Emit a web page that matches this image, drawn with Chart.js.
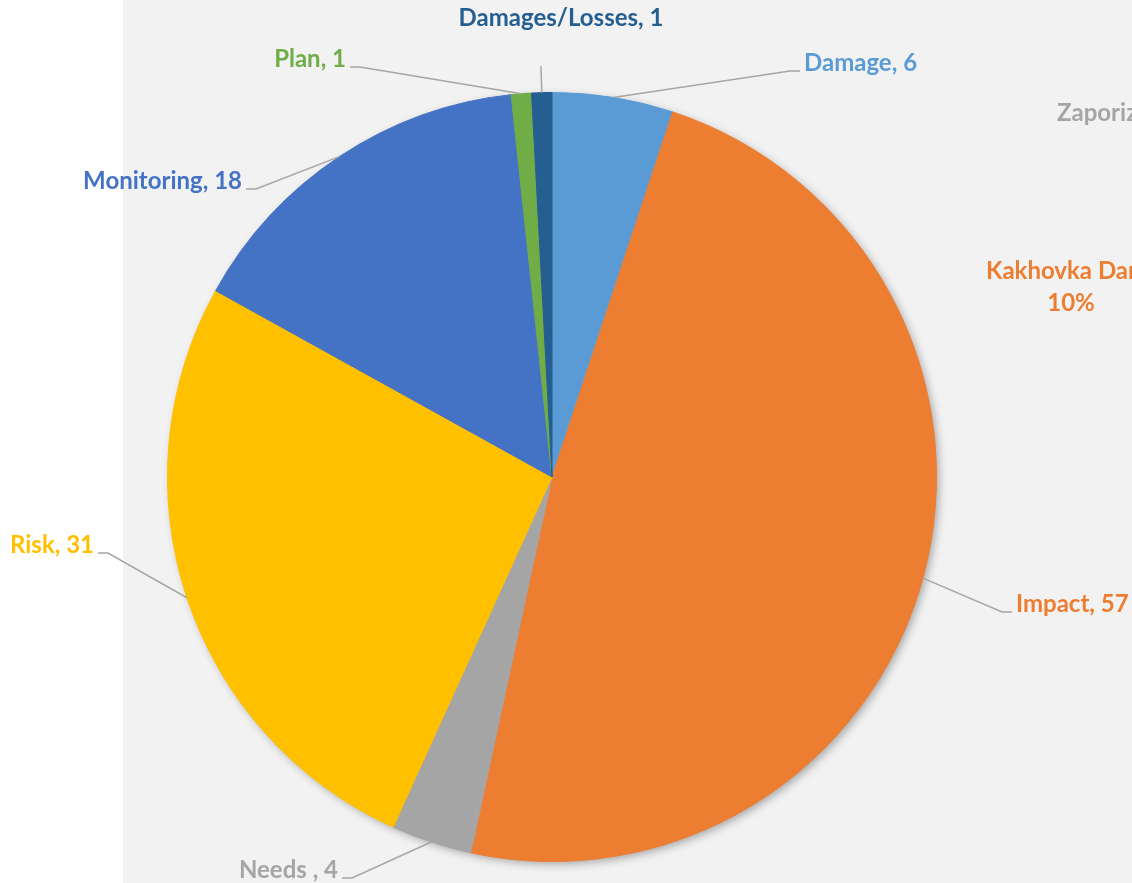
<!DOCTYPE html>
<html>
<head>
<meta charset="utf-8">
<script src="https://cdn.jsdelivr.net/npm/chart.js@4"></script>
<style>
  html, body { margin: 0; padding: 0; background: #ffffff; }
  #wrap { width: 1132px; height: 883px; }
</style>
</head>
<body>
<div id="wrap"><canvas id="topicsChart" width="1132" height="883"></canvas></div>
<script>
const categories = ['Damage', 'Impact', 'Needs ', 'Risk', 'Monitoring', 'Plan', 'Damages/Losses'];
const counts = [6, 57, 4, 31, 18, 1, 1];
const sliceColors = ['#5B9BD5', '#ED7D31', '#A5A5A5', '#FFC000', '#4472C4', '#70AD47', '#255E91'];

// where each data label sits, relative to the leader line elbow
const labelSpots = [
    { elbow: [790, 71], side: 'left' },
    { elbow: [1002, 612], side: 'left' },
    { elbow: [352, 878], side: 'right' },
    { elbow: [108, 553], side: 'right' },
    { elbow: [256, 189], side: 'right' },
    { elbow: [360, 67], side: 'right' },
    { elbow: [541, 66], side: 'top' }
];

const labelFont = 'bold 24px Lato, "Open Sans", sans-serif';

const pageBackground = {
    id: 'pageBackground',
    beforeDraw(chart) {
        const ctx = chart.ctx;
        ctx.save();
        ctx.fillStyle = '#ffffff';
        ctx.fillRect(0, 0, chart.width, chart.height);
        ctx.fillStyle = '#f2f2f2';
        ctx.fillRect(123, 0, chart.width - 123, chart.height);

        // bits of the neighbouring chart cut off at the right edge
        ctx.font = labelFont;
        ctx.textBaseline = 'middle';
        ctx.fillStyle = '#A5A5A5';
        ctx.textAlign = 'left';
        ctx.fillText('Zaporizhzhia', 1057, 113);
        ctx.fillStyle = '#ED7D31';
        ctx.fillText('Kakhovka Dam', 986, 271);
        ctx.textAlign = 'center';
        ctx.fillText('10%', 1071, 303);
        ctx.restore();
    },
    beforeDatasetsDraw(chart) {
        const arc = chart.getDatasetMeta(0).data[0];
        if (!arc) return;
        const ctx = chart.ctx;
        ctx.save();
        ctx.shadowColor = 'rgba(0,0,0,0.35)';
        ctx.shadowBlur = 10;
        ctx.shadowOffsetX = 3;
        ctx.shadowOffsetY = 3;
        ctx.fillStyle = '#f2f2f2';
        ctx.beginPath();
        ctx.arc(arc.x, arc.y, arc.outerRadius - 1, 0, Math.PI * 2);
        ctx.fill();
        ctx.restore();
    }
};

const leaderLabels = {
    id: 'leaderLabels',
    afterDatasetsDraw(chart) {
        const ctx = chart.ctx;
        const arcs = chart.getDatasetMeta(0).data;
        ctx.save();
        ctx.font = labelFont;
        ctx.textBaseline = 'middle';
        arcs.forEach((arc, i) => {
            const mid = (arc.startAngle + arc.endAngle) / 2;
            const sx = arc.x + Math.cos(mid) * arc.outerRadius;
            const sy = arc.y + Math.sin(mid) * arc.outerRadius;
            const spot = labelSpots[i];
            const [ex, ey] = spot.elbow;
            const text = categories[i] + ', ' + counts[i];

            ctx.strokeStyle = '#a6a6a6';
            ctx.lineWidth = 1.5;
            ctx.beginPath();
            ctx.moveTo(sx, sy);
            ctx.lineTo(ex, ey);
            if (spot.side === 'left') ctx.lineTo(ex + 10, ey);
            if (spot.side === 'right') ctx.lineTo(ex - 10, ey);
            ctx.stroke();

            ctx.fillStyle = sliceColors[i];
            if (spot.side === 'left') {
                ctx.textAlign = 'left';
                ctx.fillText(text, ex + 14, ey - 8);
            } else if (spot.side === 'right') {
                ctx.textAlign = 'right';
                ctx.fillText(text, ex - 14, ey - 8);
            } else {
                ctx.textAlign = 'center';
                ctx.fillText(text, ex + 20, ey - 48);
            }
        });
        ctx.restore();
    }
};

const ctx = document.getElementById('topicsChart').getContext('2d');
const topicsChart = new Chart(ctx, {
    type: 'pie',
    data: {
        labels: categories,
        datasets: [{
            data: counts,
            backgroundColor: sliceColors,
            borderColor: sliceColors,
            borderWidth: 1
        }]
    },
    options: {
        responsive: false,
        animation: false,
        layout: {
            padding: { left: 167, right: 195, top: 92, bottom: 21 }
        },
        plugins: {
            legend: { display: false },
            tooltip: { enabled: false }
        }
    },
    plugins: [pageBackground, leaderLabels]
});
</script>
</body>
</html>
